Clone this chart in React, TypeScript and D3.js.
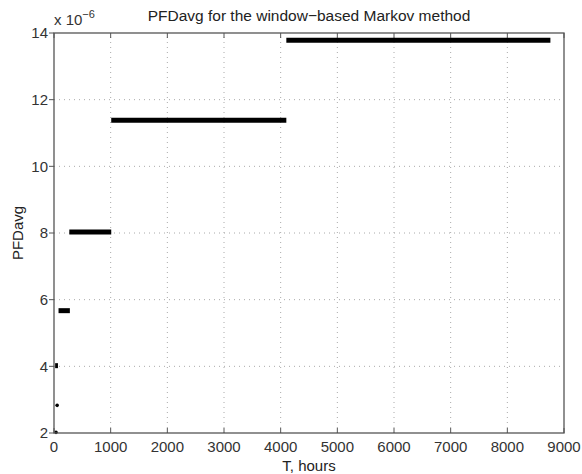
import React from "react"
import * as d3 from "d3"

// step segments (T in hours, PFDavg in units of 1e-6)
const segStart = [0, 20, 20, 80, 270, 1010, 4100]
const segEnd = [0, 20, 70, 280, 1010, 4100, 8760]
const segValue = [2.02, 2.83, 4.02, 5.67, 8.03, 11.38, 13.78]

const xTicks = [0, 1000, 2000, 3000, 4000, 5000, 6000, 7000, 8000, 9000]
const yTicks = [2, 4, 6, 8, 10, 12, 14]

const W = 582
const H = 474
const margin = { left: 54, right: 18, top: 33, bottom: 41 }
const font = "Liberation Sans, Arial, Helvetica, sans-serif"

const App = () => {
  const x = d3.scaleLinear().domain([0, 9000]).range([margin.left, W - margin.right])
  const y = d3.scaleLinear().domain([2, 14]).range([H - margin.bottom, margin.top])
  const x0 = x.range()[0], x1 = x.range()[1]
  const y0 = y.range()[0], y1 = y.range()[1]
  const axisColor = "#555"

  return (
    <svg width={W} height={H} style={{ position: "absolute", left: 0, top: 0, background: "#fff" }}
      fontFamily={font}>
      {/* grid */}
      {xTicks.slice(1, -1).map(t => (
        <line key={"gx" + t} x1={x(t)} x2={x(t)} y1={y0} y2={y1}
          stroke="#aaa" strokeWidth={1} strokeDasharray="1,4" />
      ))}
      {yTicks.slice(1, -1).map(t => (
        <line key={"gy" + t} x1={x0} x2={x1} y1={y(t)} y2={y(t)}
          stroke="#aaa" strokeWidth={1} strokeDasharray="1,4" />
      ))}

      {/* data */}
      {segValue.map((v, i) => {
        const a = x(segStart[i]), b = x(segEnd[i])
        if (b - a < 1) {
          return <circle key={"s" + i} cx={a + 2} cy={y(v)} r={1.8} fill="#000" />
        }
        return <line key={"s" + i} x1={a} x2={b} y1={y(v)} y2={y(v)}
          stroke="#000" strokeWidth={5} />
      })}

      {/* box */}
      <rect x={x0} y={y1} width={x1 - x0} height={y0 - y1} fill="none" stroke={axisColor} strokeWidth={1.3} />

      {/* x ticks */}
      {xTicks.map(t => (
        <g key={"xt" + t}>
          <line x1={x(t)} x2={x(t)} y1={y0} y2={y0 - 5} stroke={axisColor} />
          <line x1={x(t)} x2={x(t)} y1={y1} y2={y1 + 5} stroke={axisColor} />
          <text x={x(t)} y={y0 + 19} textAnchor="middle" fontSize={15} fill="#333">{t}</text>
        </g>
      ))}

      {/* y ticks */}
      {yTicks.map(t => (
        <g key={"yt" + t}>
          <line x1={x0} x2={x0 - 5} y1={y(t)} y2={y(t)} stroke={axisColor} />
          <text x={x0 - 6} y={y(t)} dy="0.35em" textAnchor="end" fontSize={15} fill="#333">{t}</text>
        </g>
      ))}

      {/* exponent */}
      <text x={x0} y={y1 - 8} fontSize={15} fill="#333">
        x 10<tspan dy={-7} fontSize={11}>−6</tspan>
      </text>

      <text x={(x0 + x1) / 2} y={21} textAnchor="middle" fontSize={15.5} fill="#222">
        PFDavg for the window−based Markov method
      </text>
      <text x={(x0 + x1) / 2} y={471} textAnchor="middle" fontSize={15} fill="#222">T, hours</text>
      <text transform={`translate(23, ${(y0 + y1) / 2}) rotate(-90)`} textAnchor="middle" fontSize={15} fill="#222">
        PFDavg
      </text>
    </svg>
  )
}

export default App
